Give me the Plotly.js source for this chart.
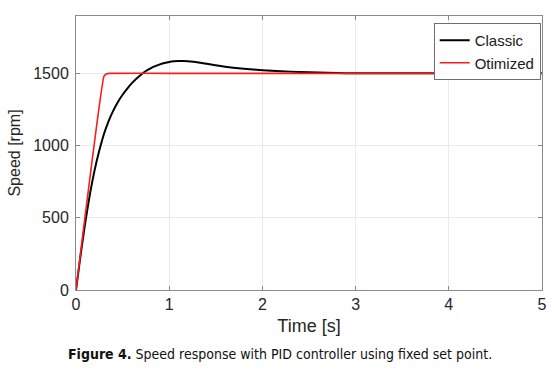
<!DOCTYPE html>
<html>
<head>
<meta charset="utf-8">
<script src="https://cdn.plot.ly/plotly-3.0.1.min.js"></script>
<style>
html,body{margin:0;padding:0;background:#fff;}
#chart{width:554px;height:371px;}
.annotation-text{font-stretch:condensed;}
</style>
</head>
<body>
<div id="chart"></div>
<script>
// Data
var classicTime  = [0, 0.05, 0.1, 0.15, 0.2, 0.25, 0.3, 0.35, 0.4, 0.45, 0.5, 0.55, 0.6, 0.65, 0.7, 0.75, 0.8, 0.85, 0.9, 0.95, 1.0, 1.05, 1.1, 1.15, 1.2, 1.3, 1.45, 1.6, 1.8, 2.0, 2.2, 2.4, 2.6, 2.8, 3.0, 3.5, 4.0, 4.5, 5.0];
var classicSpeed = [0, 245, 470, 665, 830, 965, 1080, 1170, 1242, 1302, 1352, 1395, 1432, 1464, 1492, 1516, 1535, 1550, 1562, 1572, 1579, 1583, 1585, 1585, 1583, 1577, 1561, 1546, 1532, 1522, 1515, 1509, 1505, 1502, 1501, 1500, 1500, 1500, 1500];
var optTime  = [0, 0.30, 0.33, 0.36, 1.0, 2.0, 3.0, 4.0, 5.0];
var optSpeed = [0, 1480, 1497, 1500, 1500, 1500, 1500, 1500, 1500];
var xTicks = [0, 1, 2, 3, 4, 5];
var yTicks = [0, 500, 1000, 1500];
var seriesNames = ['Classic', 'Otimized'];
var captionBold = 'Figure 4.';
var captionText = ' Speed response with PID controller using fixed set point.';

var font = '"Liberation Sans", Arial, Helvetica, sans-serif';
var axisColor = '#8a8a8a';

var traces = [
  {x: classicTime, y: classicSpeed, name: seriesNames[0], mode: 'lines',
   line: {color: '#000000', width: 2, shape: 'spline', smoothing: 0.5}},
  {x: optTime, y: optSpeed, name: seriesNames[1], mode: 'lines',
   line: {color: '#ff1a1a', width: 1.6, shape: 'spline', smoothing: 0.3}}
];

var layout = {
  width: 554, height: 371,
  margin: {l: 76, r: 12, t: 16, b: 81, pad: 0},
  paper_bgcolor: '#ffffff', plot_bgcolor: '#ffffff',
  font: {family: font, color: '#262626', size: 15},
  showlegend: true,
  legend: {x: 1 - 1.3/466, xanchor: 'right', y: 1 - 7/274, yanchor: 'top',
           bgcolor: '#ffffff', bordercolor: '#6f6f6f', borderwidth: 1,
           font: {family: font, size: 15, color: '#1a1a1a'}, tracegroupgap: 0},
  xaxis: {range: [0, 5], tickvals: xTicks, ticktext: xTicks.map(String),
          showgrid: true, gridcolor: '#ebebeb', gridwidth: 1,
          zeroline: false, showline: true, linecolor: axisColor, linewidth: 1, mirror: 'ticks',
          ticks: 'inside', ticklen: 4, tickcolor: axisColor, tickwidth: 1,
          tickfont: {family: font, size: 16, color: '#262626'}, ticklabelstandoff: 0,
          title: {text: 'Time [s]', font: {family: font, size: 18, color: '#262626'}, standoff: 7},
          fixedrange: true},
  yaxis: {range: [0, 1897], tickvals: yTicks, ticktext: yTicks.map(String),
          showgrid: true, gridcolor: '#ebebeb', gridwidth: 1,
          zeroline: false, showline: true, linecolor: axisColor, linewidth: 1, mirror: 'ticks',
          ticks: 'inside', ticklen: 4, tickcolor: axisColor, tickwidth: 1,
          tickfont: {family: font, size: 16, color: '#262626'}, ticklabelstandoff: 3,
          title: {text: 'Speed [rpm]', font: {family: font, size: 16, color: '#262626'}, standoff: 8},
          fixedrange: true},
  annotations: [{
    xref: 'paper', yref: 'paper', x: (280 - 76) / 466, y: -(354 - 290) / 274,
    xanchor: 'center', yanchor: 'middle', showarrow: false,
    text: '<b>' + captionBold + '</b>' + captionText,
    font: {family: '"DejaVu Sans", sans-serif', size: 14, color: '#111111'}
  }]
};

Plotly.newPlot('chart', traces, layout, {staticPlot: true, displayModeBar: false});
</script>
</body>
</html>
